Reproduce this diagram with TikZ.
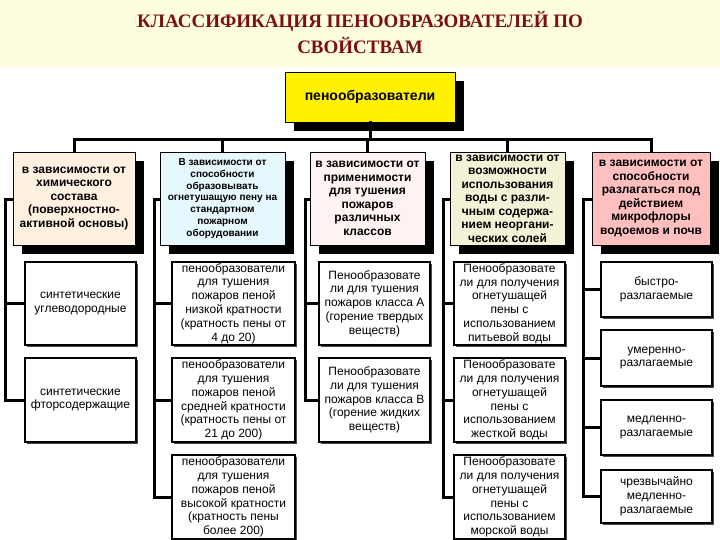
\documentclass[tikz,border=0pt]{standalone}
\usepackage{fontspec}
\setmainfont{Liberation Sans}
\newfontfamily\titlefont{Liberation Serif}
\usetikzlibrary{shadows}
\definecolor{titlered}{HTML}{7A1010}
\tikzset{
 conn/.style={line width=3pt, line cap=rect},
 cat/.style={draw=black, line width=0.6pt, align=center, font=\bfseries\fontsize{12}{13.5}\selectfont, inner sep=1pt,
   drop shadow={shadow xshift=9pt, shadow yshift=-9pt, fill=black, opacity=1}},
 leaf/.style={draw=black, line width=2pt, fill=white, align=center, font=\fontsize{12}{13.8}\selectfont, inner sep=1pt,
   drop shadow={shadow xshift=2pt, shadow yshift=-2pt, fill=black!70, opacity=1}},
}
\newcommand{\lf}[5]{\node[leaf, minimum width=#3pt, minimum height=#4pt] (#1) at (#2) {#5};}
\begin{document}
\begin{tikzpicture}[x=1pt,y=-1pt]
\useasboundingbox (0,0) rectangle (720,540);
\fill[white] (0,0) rectangle (720,540);
\fill[yellow!12] (0,0) rectangle (720,68);
\node[font=\titlefont\bfseries\fontsize{19}{26}\selectfont, text=titlered, align=center] (title) at (360,33) {КЛАССИФИКАЦИЯ ПЕНООБРАЗОВАТЕЛЕЙ ПО\\СВОЙСТВАМ};
% top
\node[cat, fill=yellow, minimum width=170pt, minimum height=50pt, font=\bfseries\fontsize{14}{15}\selectfont] (top) at (370,97) {пенообразователи};
% categories
\node[cat, fill=orange!12, minimum width=122pt, minimum height=93pt] (c1) at (74,198.5) {в зависимости от\\химического\\состава\\(поверхностно-\\активной основы)};
\node[cat, fill=cyan!10, minimum width=125pt, minimum height=93pt, font=\bfseries\fontsize{10}{11.7}\selectfont] (c2) at (222.5,198.5) {В зависимости от\\способности\\образовывать\\огнетушащую пену на\\стандартном\\пожарном\\оборудовании};
\node[cat, fill=red!5, minimum width=115pt, minimum height=93pt] (c3) at (367.5,198.5) {в зависимости от\\применимости\\для тушения\\пожаров\\различных\\классов};
\node[cat, fill=yellow!8!olive!12, minimum width=115pt, minimum height=93pt] (c4) at (507.5,198.5) {в зависимости от\\возможности\\использования\\воды с разли-\\чным содержа-\\нием неоргани-\\ческих солей};
\node[cat, fill=red!25, minimum width=118pt, minimum height=93pt] (c5) at (651,198.5) {в зависимости от\\способности\\разлагаться под\\действием\\микрофлоры\\водоемов и почв};
% top connectors
\coordinate (hl) at (74,140); \coordinate (hr) at (651,140);
\draw[conn] (top.south) -- (top.south |- hl);
\draw[conn] (hl) -- (hr);
\foreach \c in {c1,c2,c3,c4,c5} \draw[conn] (\c.north |- hl) -- (\c.north);
% leaves col1
\lf{a1}{80.5,303.5}{111}{83}{синтетические\\углеводородные}
\lf{a2}{80.5,400}{111}{84}{синтетические\\фторсодержащие}
% col2
\lf{b1}{233.5,303.5}{123}{83}{пенообразователи\\для тушения\\пожаров пеной\\низкой кратности\\(кратность пены от\\4 до 20)}
\lf{b2}{233.5,400}{123}{84}{пенообразователи\\для тушения\\пожаров пеной\\средней кратности\\(кратность пены от\\21 до 200)}
\lf{b3}{233.5,497}{123}{84}{пенообразователи\\для тушения\\пожаров пеной\\высокой кратности\\(кратность пены\\более 200)}
% col3
\lf{d1}{374.5,303.5}{111}{83}{Пенообразовате\\ли для тушения\\пожаров класса А\\(горение твердых\\веществ)}
\lf{d2}{374.5,400}{111}{84}{Пенообразовате\\ли для тушения\\пожаров класса В\\(горение жидких\\веществ)}
% col4
\lf{e1}{509.5,303.5}{111}{83}{Пенообразовате\\ли для получения\\огнетушащей\\пены с\\использованием\\питьевой воды}
\lf{e2}{509.5,400}{111}{84}{Пенообразовате\\ли для получения\\огнетушащей\\пены с\\использованием\\жесткой воды}
\lf{e3}{509.5,497}{111}{84}{Пенообразовате\\ли для получения\\огнетушащей\\пены с\\использованием\\морской воды}
% col5
\lf{f1}{656.5,289.5}{111}{55}{быстро-\\разлагаемые}
\lf{f2}{656.5,358}{111}{56}{умеренно-\\разлагаемые}
\lf{f3}{656.5,427.5}{111}{55}{медленно-\\разлагаемые}
\lf{f4}{656.5,496.5}{111}{53}{чрезвычайно\\медленно-\\разлагаемые}
% spines
\coordinate (s1t) at (5,200); \coordinate (s1b) at (5,400);
\coordinate (s2t) at (154,200); \coordinate (s2b) at (154,497);
\coordinate (s3t) at (305,200); \coordinate (s3b) at (305,400);
\coordinate (s4t) at (443,200); \coordinate (s4b) at (443,497);
\coordinate (s5t) at (583,200); \coordinate (s5b) at (583,496.5);
\draw[conn] (c1.west |- s1t) -- (s1t) -- (s1b);
\draw[conn] (c2.west |- s2t) -- (s2t) -- (s2b);
\draw[conn] (c3.west |- s3t) -- (s3t) -- (s3b);
\draw[conn] (c4.west |- s4t) -- (s4t) -- (s4b);
\draw[conn] (c5.west |- s5t) -- (s5t) -- (s5b);
\foreach \n in {a1,a2} \draw[conn] (s1t |- \n.west) -- (\n.west);
\foreach \n in {b1,b2,b3} \draw[conn] (s2t |- \n.west) -- (\n.west);
\foreach \n in {d1,d2} \draw[conn] (s3t |- \n.west) -- (\n.west);
\foreach \n in {e1,e2,e3} \draw[conn] (s4t |- \n.west) -- (\n.west);
\foreach \n in {f1,f2,f3,f4} \draw[conn] (s5t |- \n.west) -- (\n.west);
\end{tikzpicture}
\end{document}
